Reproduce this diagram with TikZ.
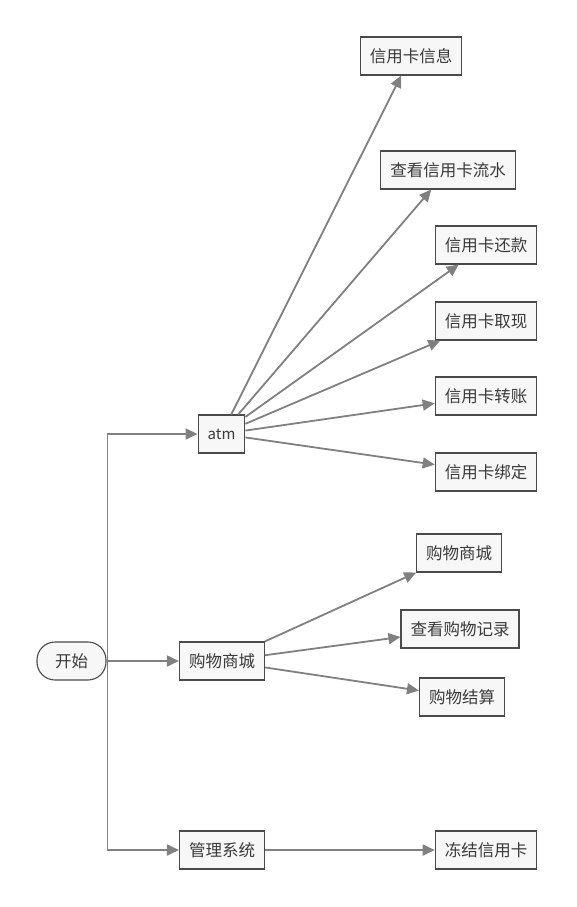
\documentclass[tikz,border=0pt]{standalone}
\usepackage{fontspec}
\setmainfont{Noto Sans CJK SC}
\usetikzlibrary{arrows.meta}
\definecolor{boxfill}{HTML}{F7F7F7}
\definecolor{boxline}{HTML}{4A4A4A}
\definecolor{linkgray}{HTML}{808080}
\definecolor{txtgray}{HTML}{3A3A3A}

\begin{document}
\begin{tikzpicture}[
  x=1pt, y=-1pt,
  box/.style={draw=boxline, fill=boxfill, line width=1.1pt, text=txtgray,
    font=\fontsize{16.5}{19}\selectfont, inner xsep=9.5pt,
    minimum height=38pt},
  startbox/.style={box, rounded corners=18pt, minimum width=69pt},
  link/.style={-{Triangle[length=12pt, width=11pt]}, linkgray, line width=1.8pt},
]

% ══════════════════════════════════════════════════════
% Canvas
% ══════════════════════════════════════════════════════
\useasboundingbox (0,0) rectangle (576,907);

% ══════════════════════════════════════════════════════
% Root and first level
% ══════════════════════════════════════════════════════
\node[startbox] (start) at (71.5,661) {开始};
\node[box, minimum width=45pt, font=\fontsize{15}{18}\selectfont] (atm) at (221.5,434) {atm};
\node[box] (shop) at (222,661) {购物商城};
\node[box] (admin) at (222,850) {管理系统};

% ══════════════════════════════════════════════════════
% atm branch
% ══════════════════════════════════════════════════════
\node[box] (cardinfo) at (411,56) {信用卡信息};
\node[box] (cardflow) at (448,170) {查看信用卡流水};
\node[box] (repay) at (486,245) {信用卡还款};
\node[box] (withdraw) at (486,321) {信用卡取现};
\node[box] (transfer) at (486,396) {信用卡转账};
\node[box] (bind) at (486,472) {信用卡绑定};

% ══════════════════════════════════════════════════════
% shop branch
% ══════════════════════════════════════════════════════
\node[box] (mall) at (459,553) {购物商城};
\node[box] (records) at (460,629) {查看购物记录};
\node[box] (checkout) at (462,697) {购物结算};

% ══════════════════════════════════════════════════════
% admin branch
% ══════════════════════════════════════════════════════
\node[box] (freeze) at (486,850) {冻结信用卡};

% ══════════════════════════════════════════════════════
% Connectors
% ══════════════════════════════════════════════════════
\draw[link] (start.east) -- ++(1,0) |- (atm);
\draw[link] (start) -- (shop);
\draw[link] (start.east) -- ++(1,0) |- (admin);

\foreach \leaf in {cardinfo, cardflow, repay, withdraw, transfer, bind}
  \draw[link] (atm) -- (\leaf);

\foreach \leaf in {mall, records, checkout}
  \draw[link] (shop) -- (\leaf);

\draw[link] (admin) -- (freeze);

\end{tikzpicture}
\end{document}
